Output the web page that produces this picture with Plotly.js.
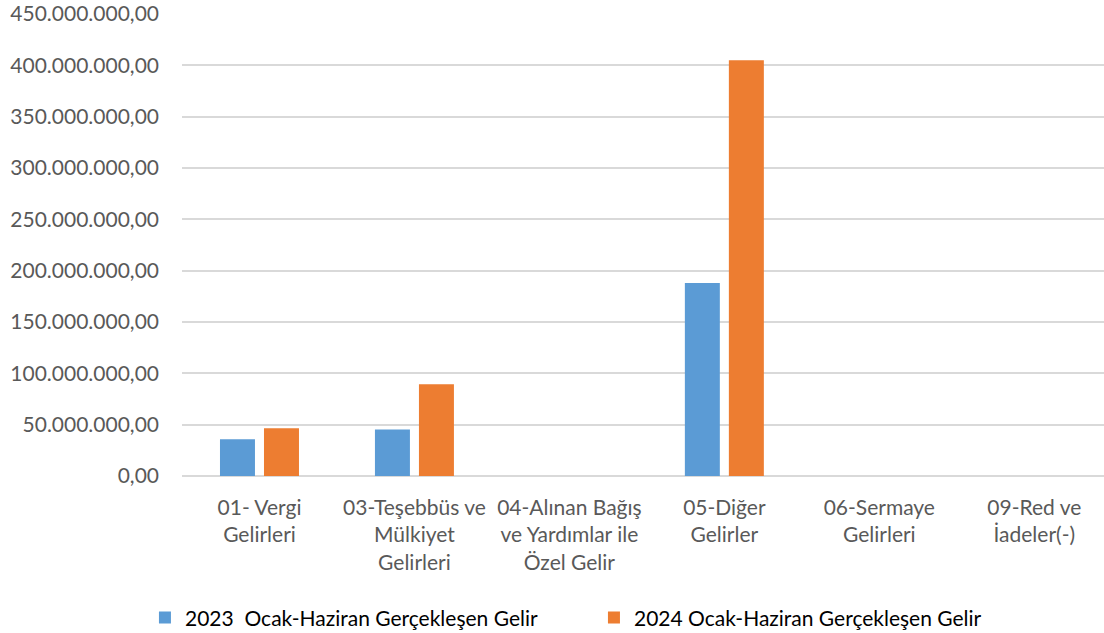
<!DOCTYPE html>
<html>
<head>
<meta charset="utf-8">
<script src="https://cdn.plot.ly/plotly-3.0.1.min.js"></script>
<style>html,body{margin:0;padding:0;background:#fff;}#chart{width:1104px;height:633px;}</style>
</head>
<body>
<div id="chart"></div>
<script>
const categories = [
  "01- Vergi<br>Gelirleri",
  "03-Teşebbüs ve<br>Mülkiyet<br>Gelirleri",
  "04-Alınan Bağış<br>ve Yardımlar ile<br>Özel Gelir",
  "05-Diğer<br>Gelirler",
  "06-Sermaye<br>Gelirleri",
  "09-Red ve<br>İadeler(-)"
];
const series2023Name = "2023\u00a0 Ocak-Haziran Gerçekleşen Gelir";
const series2024Name = "2024 Ocak-Haziran Gerçekleşen Gelir";
const values2023 = [35900000, 45300000, 0, 188000000, 0, 0];
const values2024 = [46600000, 89300000, 0, 405000000, 0, 0];
const yTicks = [0, 50000000, 100000000, 150000000, 200000000, 250000000, 300000000, 350000000, 400000000, 450000000];

const FONT = "Lato, 'Open Sans', sans-serif";

const data = [
  {type: 'bar', name: series2023Name, x: categories, y: values2023,
   marker: {color: '#5B9BD5'}, hoverinfo: 'y'},
  {type: 'bar', name: series2024Name, x: categories, y: values2024,
   marker: {color: '#ED7D31'}, hoverinfo: 'y'}
];

const layout = {
  width: 1104, height: 633,
  margin: {l: 182, r: 0, t: 14, b: 157, pad: 0},
  paper_bgcolor: '#ffffff', plot_bgcolor: '#ffffff',
  separators: ',.',
  font: {family: FONT, size: 21, color: '#595959'},
  barmode: 'group',
  bargap: 0.432,
  bargroupgap: 0.205,
  showlegend: true,
  xaxis: {
    type: 'category',
    range: [-0.5, 5.45],
    showgrid: false, zeroline: false, showline: false,
    ticks: '', tickangle: 0,
    tickfont: {family: FONT, size: 21, color: '#595959'},
    ticklabelstandoff: 17,
    fixedrange: true
  },
  yaxis: {
    range: [0, 450000000],
    tickvals: yTicks,
    tickformat: ',.2f',
    showgrid: true, gridcolor: '#d9d9d9', gridwidth: 1.8,
    zeroline: true, zerolinecolor: '#d9d9d9', zerolinewidth: 1.8,
    showline: false, ticks: '',
    tickfont: {family: FONT, size: 21, color: '#595959'},
    ticklabelstandoff: 22,
    fixedrange: true
  },
  legend: {
    orientation: 'h',
    xref: 'container', yref: 'container',
    x: 0.538, xanchor: 'center',
    y: 0.024, yanchor: 'middle',
    font: {family: FONT, size: 21, color: '#000000'},
    itemwidth: 30,
    entrywidth: 404, entrywidthmode: 'pixels',
    traceorder: 'normal'
  }
};

Plotly.newPlot('chart', data, layout, {displayModeBar: false, staticPlot: true});
</script>
</body>
</html>
